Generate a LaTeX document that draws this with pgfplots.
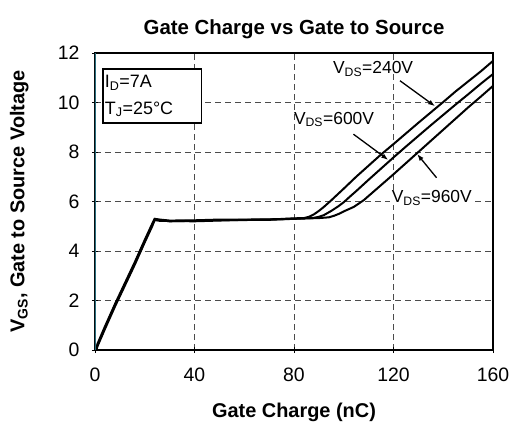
\documentclass[border=0pt]{standalone}
\usepackage{fontspec}
\setmainfont{Liberation Sans}
\usepackage{pgfplots}
\pgfplotsset{compat=1.18}
\usetikzlibrary{arrows.meta}
\definecolor{spine}{RGB}{40,110,125}

\begin{document}
\begin{tikzpicture}
\useasboundingbox (-95bp,-77bp) rectangle (415bp,350bp);
\begin{axis}[
    at={(0,0)}, anchor=south west,
    scale only axis,
    width=398bp, height=297bp,
    xmin=0, xmax=160, ymin=0, ymax=12,
    xtick={0,40,...,160},
    ytick={0,2,...,12},
    tick pos=left,
    tick align=center,
    major tick length=6bp,
    tick style={black, line width=0.8bp},
    axis line style={line width=1.3bp},
    grid=major,
    major grid style={dash pattern=on 6bp off 4bp, black!70, line width=0.8bp},
    /pgf/number format/assume math mode=true,
    ticklabel style={font=\fontsize{19.5}{21}\selectfont},
    xticklabel style={yshift=-11bp},
    yticklabel style={xshift=-9bp},
    every axis title/.style={at={(axis description cs:0.5,1.081)}, anchor=center},
    every axis x label/.style={at={(axis description cs:0.5,-0.209)}, anchor=center},
    every axis y label/.style={at={(axis description cs:-0.19,0.5)}, rotate=90, anchor=center},
    title={Gate Charge vs Gate to Source},
    title style={font=\fontsize{20.5}{22}\selectfont\bfseries},
    xlabel={Gate Charge (nC)},
    ylabel={V\textsubscript{GS}, Gate to Source Voltage},
    label style={font=\fontsize{20}{22}\selectfont\bfseries},
]
% V_DS = 240 V
\addplot[black, line width=2bp] coordinates {
    (0.5,0) (1,0.2) (4,0.9) (8,1.8) (12,2.65) (16,3.5) (20,4.4) (23,5.05) (24,5.28)
    (26,5.25) (30,5.2) (40,5.22) (50,5.25) (60,5.25) (70,5.27) (80,5.32) (84,5.33)
    (86,5.38) (88,5.48) (90,5.62) (92,5.78) (95,6.05) (100,6.52) (105,7.0) (110,7.45)
    (115,7.9) (120,8.32) (125,8.75) (130,9.18) (135,9.6) (140,10.02) (145,10.45)
    (150,10.85) (155,11.25) (160,11.68)
};
% V_DS = 600 V
\addplot[black, line width=2bp] coordinates {
    (0.5,0) (1,0.25) (4,0.95) (8,1.85) (12,2.7) (16,3.55) (20,4.45) (23,5.1) (24,5.3)
    (26,5.27) (30,5.23) (40,5.24) (50,5.27) (60,5.27) (70,5.28) (80,5.3) (88,5.34)
    (90,5.38) (92,5.45) (95,5.62) (98,5.82) (100,5.97) (102.5,6.2) (105,6.42)
    (110,6.88) (115,7.33) (120,7.78) (125,8.22) (130,8.65) (135,9.08) (140,9.5)
    (145,9.92) (150,10.33) (155,10.75) (160,11.15)
};
% V_DS = 960 V
\addplot[black, line width=2bp] coordinates {
    (0.5,0) (1,0.15) (4,0.85) (8,1.75) (12,2.6) (16,3.45) (20,4.35) (23,5.0) (24,5.25)
    (26,5.22) (30,5.21) (40,5.2) (50,5.23) (60,5.26) (70,5.26) (80,5.3) (90,5.33)
    (94,5.36) (96,5.42) (98,5.5) (100,5.6) (104,5.78) (108,6.05) (112,6.4) (116,6.75)
    (120,7.1) (125,7.55) (130,8.0) (135,8.45) (140,8.9) (145,9.35) (150,9.8)
    (155,10.23) (160,10.67)
};
% coloured left spine
\draw[spine, line width=1.3bp] (rel axis cs:0,0) -- (rel axis cs:0,1);
% annotations
\draw[black, line width=1.2bp, fill=white] (axis cs:3.2,9.17) rectangle (axis cs:42.9,11.35);
\node[anchor=west, font=\fontsize{18}{20}\selectfont, inner sep=0pt] at (axis cs:3.9,10.8) {I\textsubscript{D}=7A};
\node[anchor=west, font=\fontsize{18}{20}\selectfont, inner sep=0pt] at (axis cs:3.9,9.72) {T\textsubscript{J}=25°C};
\node[font=\fontsize{17.5}{20}\selectfont, inner sep=0pt] at (axis cs:111.8,11.35) {V\textsubscript{DS}=240V};
\node[font=\fontsize{17.5}{20}\selectfont, inner sep=0pt] at (axis cs:96.1,9.32) {V\textsubscript{DS}=600V};
\node[font=\fontsize{17.5}{20}\selectfont, inner sep=0pt, fill=white, inner xsep=2bp] at (axis cs:135.4,6.14) {V\textsubscript{DS}=960V};
\draw[-{Latex[length=7bp,width=5bp]}, line width=1.3bp] (axis cs:122.6,10.88) -- (axis cs:136.7,9.85);
\draw[-{Latex[length=7bp,width=5bp]}, line width=1.3bp] (axis cs:103.9,8.72) -- (axis cs:117.9,7.68);
\draw[-{Latex[length=7bp,width=5bp]}, line width=1.3bp] (axis cs:137.3,6.96) -- (axis cs:129.5,7.92);
\end{axis}
\end{tikzpicture}
\end{document}
